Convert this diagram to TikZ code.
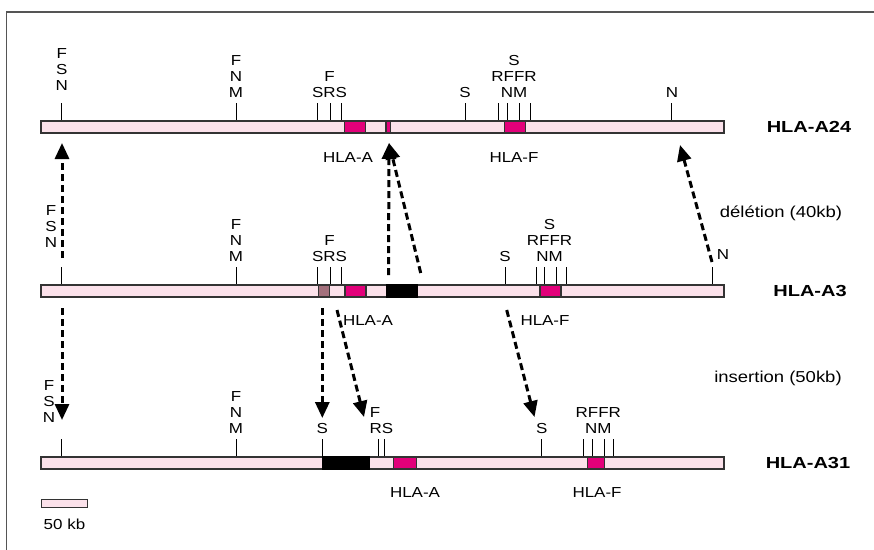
\documentclass[tikz,border=0pt]{standalone}
\usepackage{fontspec}
\setmainfont{Liberation Sans}[FakeStretch=1.17]
\newfontfamily\labfont{Liberation Sans}[FakeStretch=1.25]
\usetikzlibrary{arrows.meta}
\definecolor{barpink}{HTML}{FBE1EA}
\definecolor{mag}{HTML}{E2007A}
\definecolor{mauve}{HTML}{A3707C}
\definecolor{edge}{HTML}{333333}
\definecolor{frame}{HTML}{555555}
\tikzset{
  chrom/.style={draw=edge, line width=1.3pt, fill=barpink},
  gene/.style={draw=edge, line width=1.1pt, fill=mag},
  mauvebox/.style={draw=edge, line width=1.1pt, fill=mauve},
  blackbox/.style={draw=black, line width=1.1pt, fill=black},
  tickline/.style={line width=0.9pt, black},
  site/.style={font=\fontsize{14.5}{16}\selectfont, align=center, inner sep=0pt, text depth=0pt, anchor=south},
  genelab/.style={font=\fontsize{14.5}{16}\selectfont, inner sep=0pt},
  hlalab/.style={font=\labfont\bfseries\fontsize{16}{19}\selectfont, inner sep=0pt},
  evlab/.style={font=\fontsize{15.8}{18}\selectfont, inner sep=0pt},
  move/.style={line width=3pt, dash pattern=on 7pt off 4pt, -{Triangle[length=16pt,width=14pt]}},
}
\begin{document}
\begin{tikzpicture}[x=1pt,y=-1pt]
\useasboundingbox (0,0) rectangle (874,549);
\fill[white] (0,0) rectangle (874,549);
% frame (only top and left visible)
\draw[frame, line width=1.5pt] (880,12) -- (6.5,12) -- (6.5,560);

% ---------------- HLA-A24 ----------------
\foreach \x in {61.7,236,317.7,330,341,465,498.3,507,519.3,530,671.7}
  \draw[tickline] (\x,103) -- (\x,121);
\draw[chrom] (41,121) rectangle (724,133);
\draw[gene] (344.3,121) rectangle (365.7,133);
\draw[gene] (386,121) rectangle (390.5,133);
\draw[gene] (504.3,121) rectangle (525.7,133);
\node[site] (t1a) at (61.7,91) {F\\S\\N};
\node[site] (t1b) at (236,98) {F\\N\\M};
\node[site] (t1c) at (329.5,98) {F\\SRS};
\node[site] (t1d) at (465,98) {S};
\node[site] (t1e) at (514,98) {S\\RFFR\\NM};
\node[site] (t1f) at (672,98) {N};
\node[genelab] (g1a) at (348,157.5) {HLA-A};
\node[genelab] (g1f) at (514,157.5) {HLA-F};
\node[hlalab] (h24) at (809,127) {HLA-A24};

% ---------------- HLA-A3 ----------------
\foreach \x in {61.7,236,317.7,330,341,505,536,544.3,556,566,712.7}
  \draw[tickline] (\x,267) -- (\x,285);
\draw[chrom] (41,285) rectangle (724,297);
\draw[mauvebox] (318.3,285) rectangle (329.3,297);
\draw[gene] (345,285) rectangle (366,297);
\draw[blackbox] (386.7,285) rectangle (417.7,297);
\draw[gene] (540,285) rectangle (561,297);
\node[site] (t2a) at (51,248) {F\\S\\N};
\node[site] (t2b) at (236,262) {F\\N\\M};
\node[site] (t2c) at (329.5,262) {F\\SRS};
\node[site] (t2d) at (505,262) {S};
\node[site] (t2e) at (549.5,262) {S\\RFFR\\NM};
\node[site] (t2f) at (723,260) {N};
\node[genelab] (g2a) at (368,321) {HLA-A};
\node[genelab] (g2f) at (545,321) {HLA-F};
\node[evlab] (del) at (781,213) {délétion (40kb)};
\node[hlalab] (h3) at (810,291) {HLA-A3};

% ---------------- HLA-A31 ----------------
\foreach \x in {61.7,236,322.3,378.3,384.3,541.7,583.7,592.7,604.3,613.7}
  \draw[tickline] (\x,439) -- (\x,457);
\draw[chrom] (41,457) rectangle (724,469);
\draw[blackbox] (322.3,457) rectangle (369,469);
\draw[gene] (393.3,457) rectangle (416.7,469);
\draw[gene] (587.7,457) rectangle (604.7,469);
\node[site] (t3a) at (49,423) {F\\S\\N};
\node[site] (t3b) at (236,434) {F\\N\\M};
\node[site] (t3c) at (322.3,434) {S};
\node[site] (t3d) at (381.5,434) {RS};
\node[site] (t3e) at (375,418) {F};
\node[site] (t3g) at (541.7,434) {S};
\node[site] (t3h) at (598.3,434) {RFFR\\NM};
\node[genelab] (g3a) at (415,493) {HLA-A};
\node[genelab] (g3f) at (597,493) {HLA-F};
\node[evlab] (ins) at (778,378) {insertion (50kb)};
\node[hlalab] (h31) at (808,463) {HLA-A31};

% scale bar
\draw[chrom, line width=1.1pt] (41.7,499.3) rectangle (87.7,507.3);
\node[genelab] (sc) at (64.5,524) {50 kb};

% ---------------- arrows ----------------
\coordinate (s1) at (62,258);   \coordinate (e1) at (62,143);
\coordinate (s2) at (62,308);   \coordinate (e2) at (62,420);
\coordinate (s3) at (388.5,275); \coordinate (e3) at (389,143);
\coordinate (s4) at (420.7,273);
\coordinate (s5) at (712,262);  \coordinate (e5) at (680,145);
\coordinate (s6) at (322.3,308); \coordinate (e6) at (322.3,418);
\coordinate (s7) at (337,310);  \coordinate (e7) at (364,417);
\coordinate (s8) at (506.7,310); \coordinate (e8) at (534.5,417);
\draw[move] (s1) -- (e1);
\draw[move] (s2) -- (e2);
\draw[move] (s3) -- (e3);
\draw[move] (s4) -- (e3);
\draw[move] (s5) -- (e5);
\draw[move] (s6) -- (e6);
\draw[move] (s7) -- (e7);
\draw[move] (s8) -- (e8);
\end{tikzpicture}
\end{document}
